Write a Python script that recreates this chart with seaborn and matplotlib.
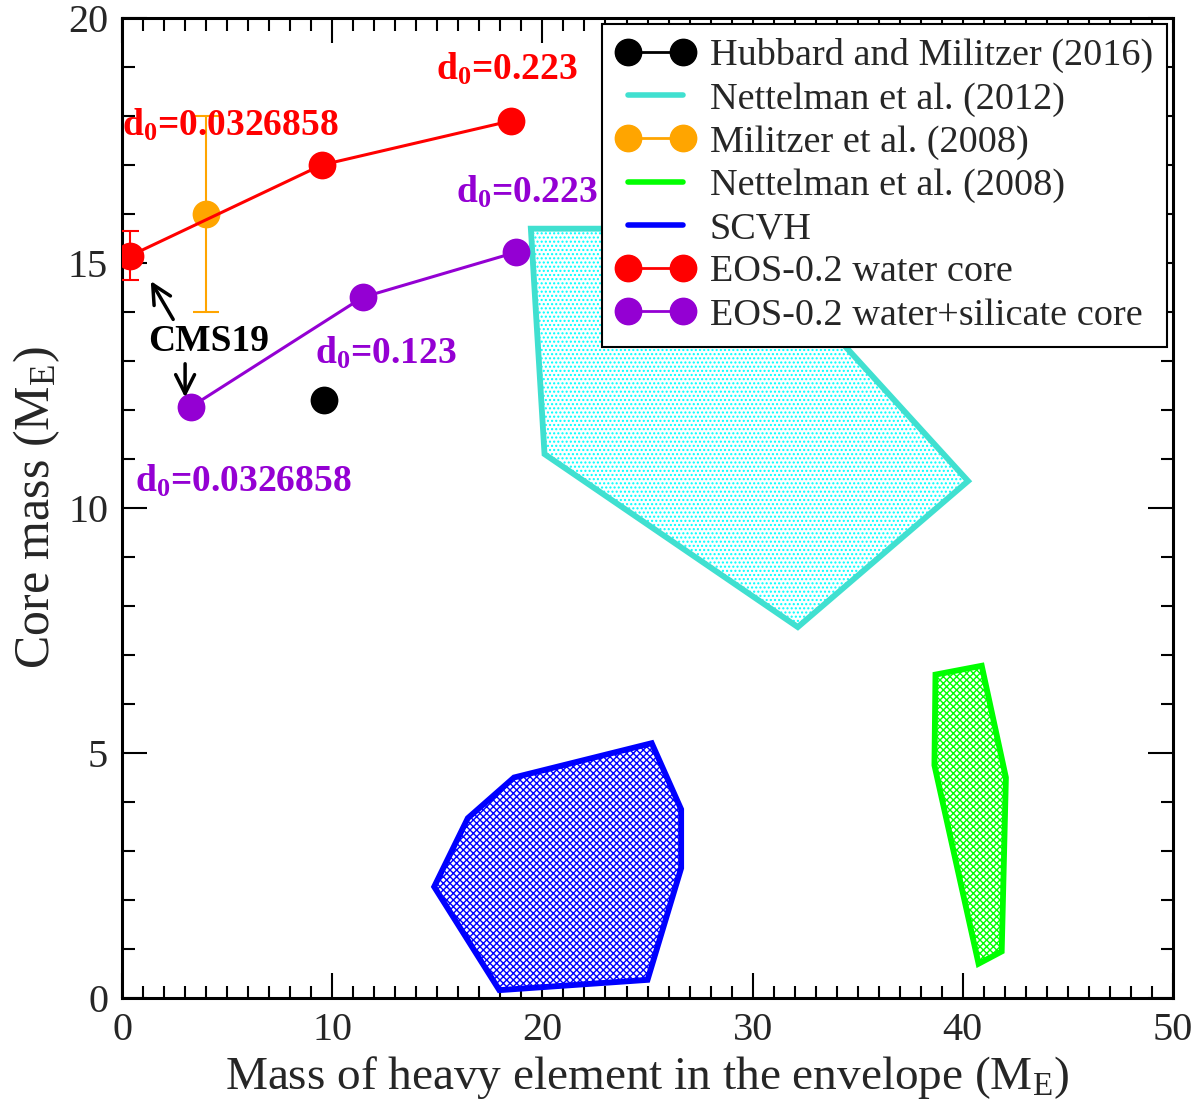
import numpy as np
import pandas as pd
import seaborn as sns
import matplotlib
matplotlib.use("Agg")
import matplotlib.pyplot as plt
from matplotlib.lines import Line2D
from matplotlib.ticker import MultipleLocator

# EOS-0.2 models
water_x = [0.4, 9.5, 18.5]
water_y = [15.15, 17.0, 17.9]
water_err = [0.5, 0.0, 0.0]
silicate_x = [3.3, 11.45, 18.75]
silicate_y = [12.07, 14.3, 15.22]

# literature
hubbard_x = [9.6]
hubbard_y = [12.2]
militzer_x = [4.0]
militzer_y = [16.0]
militzer_err = [2.0]

# model regions (polygon vertices)
nett2012_x = [19.45, 29.3, 40.25, 32.15, 20.1]
nett2012_y = [15.7, 15.7, 10.55, 7.57, 11.1]
nett2008_x = [38.7, 40.9, 42.05, 41.85, 40.75, 38.65]
nett2008_y = [6.6, 6.78, 4.5, 0.95, 0.7, 4.75]
scvh_x = [18.65, 25.2, 26.6, 26.6, 25.0, 17.95, 14.85, 16.45]
scvh_y = [4.5, 5.2, 3.85, 2.65, 0.37, 0.16, 2.27, 3.67]

legend_labels = ["Hubbard and Militzer (2016)", "Nettelman et al. (2012)",
                 "Militzer et al. (2008)", "Nettelman et al. (2008)", "SCVH",
                 "EOS-0.2 water core", "EOS-0.2 water+silicate core"]

sns.set_style("ticks")
plt.rcParams["font.family"] = ["Liberation Serif", "DejaVu Serif"]
plt.rcParams["mathtext.fontset"] = "custom"
plt.rcParams["mathtext.rm"] = "Liberation Serif"
plt.rcParams["mathtext.it"] = "Liberation Serif:italic"
plt.rcParams["mathtext.bf"] = "Liberation Serif:bold"
plt.rcParams["hatch.linewidth"] = 1.0

fig = plt.figure(figsize=(12, 11.1), dpi=100)
ax = fig.add_axes([0.1017, 0.1009, 0.8758, 0.8829])

red = "#ff0000"
purple = "#9400d3"
orange = "#ffa500"
turq = "#40e0d0"
green = "#00ff00"
blue = "#0000ff"

# regions: hatch pass + outline pass
for px, py, hc, ec, hatch in [(nett2012_x, nett2012_y, "#00ffff", turq, "...."),
                              (nett2008_x, nett2008_y, green, green, "xxxxx"),
                              (scvh_x, scvh_y, blue, blue, "xxxxx")]:
    ax.fill(px, py, facecolor="white", edgecolor=hc, hatch=hatch, lw=0, zorder=1)
    ax.fill(px, py, facecolor="none", edgecolor=ec, lw=4.2, joinstyle="miter", zorder=2)

ms = 20
ax.errorbar(militzer_x, militzer_y, yerr=militzer_err, fmt="none", ecolor=orange,
            elinewidth=1.5, capsize=9.5, capthick=1.5, zorder=3)
sns.scatterplot(x=militzer_x, y=militzer_y, color=orange, s=ms ** 2, linewidth=0,
                ax=ax, zorder=4)

ax.errorbar(water_x[:1], water_y[:1], yerr=water_err[:1], fmt="none", ecolor=red,
            elinewidth=1.5, capsize=6.5, capthick=1.5, zorder=3)
df_w = pd.DataFrame({"x": water_x, "y": water_y})
sns.lineplot(data=df_w, x="x", y="y", sort=False, color=red, lw=2.2, marker="o",
             markersize=ms, markeredgewidth=0, ax=ax, zorder=5)
df_s = pd.DataFrame({"x": silicate_x, "y": silicate_y})
sns.lineplot(data=df_s, x="x", y="y", sort=False, color=purple, lw=2.2, marker="o",
             markersize=ms, markeredgewidth=0, ax=ax, zorder=5)
sns.scatterplot(x=hubbard_x, y=hubbard_y, color="black", s=ms ** 2, linewidth=0,
                ax=ax, zorder=5)

# annotations
bold = dict(fontsize=27, fontweight="bold")
ax.text(18.3, 18.95, r"d$_\mathbf{0}$=0.223", color=red, ha="center", va="center", **bold)
ax.text(5.15, 17.8, r"d$_\mathbf{0}$=0.0326858", color=red, ha="center", va="center", **bold)
ax.text(19.25, 16.45, r"d$_\mathbf{0}$=0.223", color=purple, ha="center", va="center", **bold)
ax.text(12.55, 13.15, r"d$_\mathbf{0}$=0.123", color=purple, ha="center", va="center", **bold)
ax.text(5.75, 10.55, r"d$_\mathbf{0}$=0.0326858", color=purple, ha="center", va="center", **bold)
ax.text(4.1, 13.4, "CMS19", color="black", ha="center", va="center", **bold)
arrow = dict(arrowstyle="->", color="black", lw=2.5, mutation_scale=34)
ax.annotate("", xy=(1.3, 14.68), xytext=(2.5, 13.8), arrowprops=arrow, zorder=6)
ax.annotate("", xy=(3.0, 12.2), xytext=(3.0, 13.0), arrowprops=arrow, zorder=6)

ax.set_xlim(0, 50)
ax.set_ylim(0, 20)
ax.xaxis.set_major_locator(MultipleLocator(10))
ax.xaxis.set_minor_locator(MultipleLocator(1))
ax.yaxis.set_major_locator(MultipleLocator(5))
ax.yaxis.set_minor_locator(MultipleLocator(1))
ax.tick_params(which="both", direction="in", top=True, right=True, width=1.5,
               labelsize=29, color="black")
ax.tick_params(which="major", length=18, pad=10)
ax.tick_params(which="minor", length=9)
for s in ax.spines.values():
    s.set_linewidth(2.2)
    s.set_color("black")
ax.set_xlabel(r"Mass of heavy element in the envelope (M$_\mathrm{E}$)", fontsize=34)
ax.set_ylabel(r"Core mass (M$_\mathrm{E}$)", fontsize=36)

handles = [
    Line2D([], [], color="black", lw=2, marker="o", markersize=19),
    Line2D([], [], color=turq, lw=4),
    Line2D([], [], color=orange, lw=2, marker="o", markersize=19),
    Line2D([], [], color=green, lw=4),
    Line2D([], [], color=blue, lw=4),
    Line2D([], [], color=red, lw=2, marker="o", markersize=19),
    Line2D([], [], color=purple, lw=2, marker="o", markersize=19),
]
leg = ax.legend(handles, legend_labels, loc="upper right", fontsize=27.5,
                frameon=True, fancybox=False, edgecolor="black", framealpha=1,
                handlelength=2.05, handletextpad=0.4, labelspacing=0.22,
                borderpad=0.38, borderaxespad=0.15, numpoints=2)
leg.get_frame().set_linewidth(1.5)
leg.set_zorder(10)

fig.savefig("out.png", dpi=100)
